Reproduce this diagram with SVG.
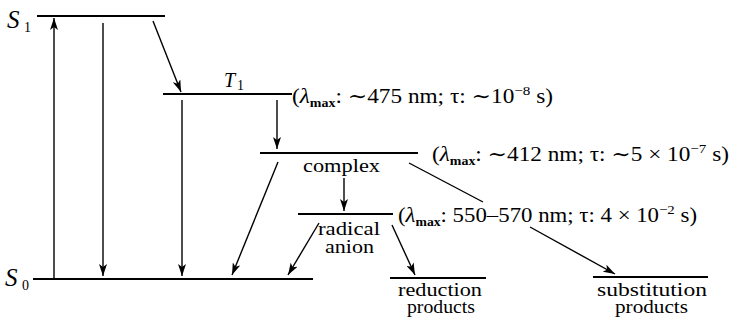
<svg xmlns="http://www.w3.org/2000/svg" width="731" height="320" viewBox="0 0 731 320" font-family="'Liberation Serif','Times New Roman',Times,'DejaVu Serif',serif">
<style>
text{font-family:"Liberation Serif","Times New Roman",Times,"DejaVu Serif",serif;font-size:18.5px;fill:#000}
.lvl{stroke:#000;stroke-width:1.8;fill:none}
.arr{stroke:#000;stroke-width:1.4;fill:none}
.it{font-style:italic}
.big{font-size:25px}
.n{font-size:14px}
.sub{font-size:12px;font-weight:bold}
.sup{font-size:13px}
.lab{font-size:20px}
</style>
<defs>
<marker id="ah" viewBox="0 0 12 8" refX="12" refY="4" markerWidth="12" markerHeight="8" markerUnits="userSpaceOnUse" orient="auto">
<path d="M0,0 L12,4 L0,8 L3,4 z" fill="#000"/>
</marker>
</defs>
<rect width="731" height="320" fill="#fff"/>
<g id="S1">
<line class="lvl" x1="37" y1="16" x2="165" y2="16"/>
<text x="7" y="28" class="it big">S</text><text x="24" y="32" class="n">1</text>
</g>
<g id="T1">
<line class="lvl" x1="163" y1="94" x2="292" y2="94"/>
<text x="224" y="87" class="it lab">T</text><text x="237" y="90" class="n">1</text>
<text x="292" y="103" class="lab" textLength="261" lengthAdjust="spacingAndGlyphs">(<tspan class="it">λ</tspan><tspan class="sub" dy="4">max</tspan><tspan dy="-4">: ∼475 nm; τ: ∼10</tspan><tspan class="sup" dy="-8">−8</tspan><tspan dy="8"> s)</tspan></text>
</g>
<g id="complex">
<line class="lvl" x1="260" y1="153" x2="418" y2="153"/>
<text x="303" y="172" textLength="77" lengthAdjust="spacingAndGlyphs">complex</text>
<text x="432" y="161" class="lab" textLength="297" lengthAdjust="spacingAndGlyphs">(<tspan class="it">λ</tspan><tspan class="sub" dy="4">max</tspan><tspan dy="-4">: ∼412 nm; τ: ∼5 × 10</tspan><tspan class="sup" dy="-8">−7</tspan><tspan dy="8"> s)</tspan></text>
</g>
<g id="radical-anion">
<line class="lvl" x1="298" y1="214" x2="393" y2="214"/>
<text x="318" y="235" textLength="62" lengthAdjust="spacingAndGlyphs">radical</text>
<text x="325" y="253" textLength="49" lengthAdjust="spacingAndGlyphs">anion</text>
<text x="398" y="222" class="lab" textLength="299" lengthAdjust="spacingAndGlyphs">(<tspan class="it">λ</tspan><tspan class="sub" dy="4">max</tspan><tspan dy="-4">: 550–570 nm; τ: 4 × 10</tspan><tspan class="sup" dy="-8">−2</tspan><tspan dy="8"> s)</tspan></text>
</g>
<g id="S0">
<line class="lvl" x1="33" y1="279" x2="313" y2="279"/>
<text x="5" y="286" class="it big">S</text><text x="22" y="290" class="n">0</text>
</g>
<g id="reduction-products">
<line class="lvl" x1="390" y1="278" x2="486" y2="278"/>
<text x="398" y="296" textLength="84" lengthAdjust="spacingAndGlyphs">reduction</text>
<text x="407" y="313" textLength="68" lengthAdjust="spacingAndGlyphs">products</text>
</g>
<g id="substitution-products">
<line class="lvl" x1="593" y1="277" x2="708" y2="277"/>
<text x="597" y="296" textLength="110" lengthAdjust="spacingAndGlyphs">substitution</text>
<text x="615" y="313" textLength="73" lengthAdjust="spacingAndGlyphs">products</text>
</g>
<g id="connectors">
<line class="arr" x1="54" y1="278" x2="54" y2="18" marker-end="url(#ah)"/>
<line class="arr" x1="103" y1="23" x2="103" y2="276" marker-end="url(#ah)"/>
<line class="arr" x1="153" y1="21" x2="181" y2="92" marker-end="url(#ah)"/>
<line class="arr" x1="182" y1="100" x2="182" y2="276" marker-end="url(#ah)"/>
<line class="arr" x1="277" y1="100" x2="277" y2="149" marker-end="url(#ah)"/>
<line class="arr" x1="278" y1="162" x2="232" y2="275" marker-end="url(#ah)"/>
<line class="arr" x1="344" y1="178" x2="344" y2="211" marker-end="url(#ah)"/>
<line class="arr" x1="409" y1="163" x2="483" y2="202"/>
<line class="arr" x1="530" y1="227" x2="615" y2="274" marker-end="url(#ah)"/>
<line class="arr" x1="319" y1="223" x2="288" y2="275" marker-end="url(#ah)"/>
<line class="arr" x1="392" y1="225" x2="415" y2="275" marker-end="url(#ah)"/>
</g>
</svg>
